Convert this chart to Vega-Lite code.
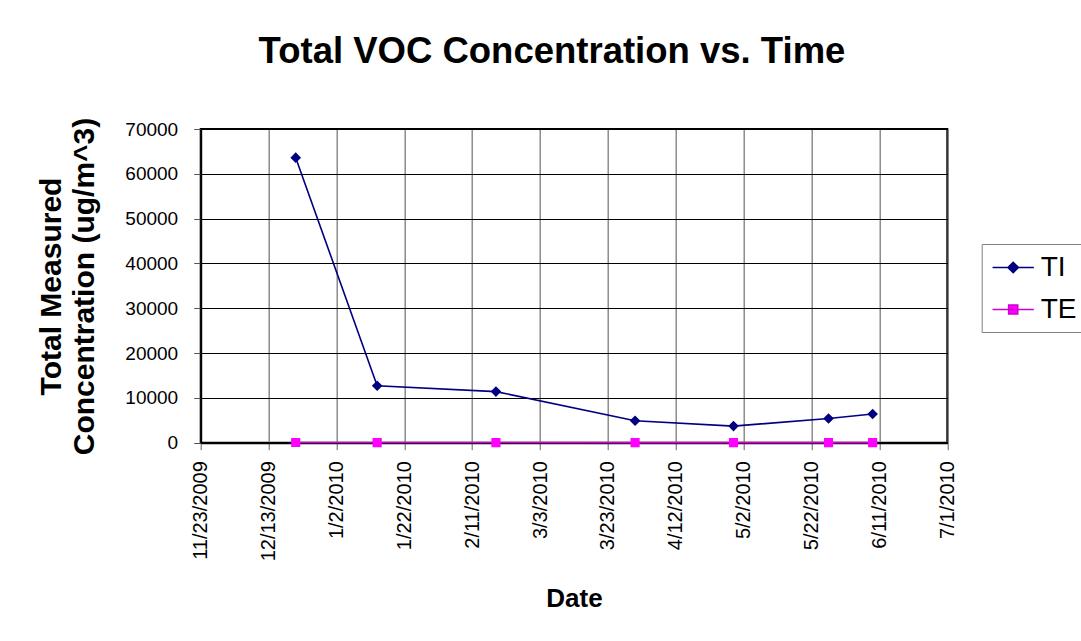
{
  "$schema": "https://vega.github.io/schema/vega-lite/v6.json",
  "width": 746.6,
  "height": 313.7,
  "autosize": {"type": "none"},
  "padding": {"left": 200.7, "top": 129, "right": 133.7, "bottom": 198.3},
  "background": "white",
  "title": {
    "text": "Total VOC Concentration vs. Time",
    "font": "Liberation Sans",
    "fontSize": 36.5,
    "fontWeight": "bold",
    "color": "black",
    "anchor": "middle",
    "frame": "group",
    "dx": -22,
    "baseline": "alphabetic",
    "offset": 18
  },
  "config": {
    "view": {"stroke": "black", "strokeWidth": 2},
    "axis": {
      "labelFont": "Liberation Sans",
      "labelColor": "black",
      "titleFont": "Liberation Sans",
      "titleFontWeight": "bold",
      "titleColor": "black"
    },
    "legend": {
      "orient": "none",
      "legendX": 781,
      "legendY": 115,
      "padding": 8,
      "symbolOffset": 8,
      "symbolSize": 870,
      "symbolStrokeWidth": 1.5,
      "rowPadding": 12,
      "labelOffset": 12,
      "labelFont": "Liberation Sans",
      "labelFontSize": 28,
      "labelColor": "black",
      "strokeColor": "#808080",
      "fillColor": "white"
    }
  },
  "data": {
    "values": [
      {"date": "2009-12-21", "series": "TI", "value": 63600},
      {"date": "2010-01-14", "series": "TI", "value": 12700},
      {"date": "2010-02-18", "series": "TI", "value": 11400},
      {"date": "2010-03-31", "series": "TI", "value": 4900},
      {"date": "2010-04-29", "series": "TI", "value": 3700},
      {"date": "2010-05-27", "series": "TI", "value": 5400},
      {"date": "2010-06-09", "series": "TI", "value": 6400},
      {"date": "2009-12-21", "series": "TE", "value": 40},
      {"date": "2010-01-14", "series": "TE", "value": 30},
      {"date": "2010-02-18", "series": "TE", "value": 30},
      {"date": "2010-03-31", "series": "TE", "value": 20},
      {"date": "2010-04-29", "series": "TE", "value": 20},
      {"date": "2010-05-27", "series": "TE", "value": 20},
      {"date": "2010-06-09", "series": "TE", "value": 20}
    ]
  },
  "encoding": {
    "x": {
      "field": "date",
      "type": "temporal",
      "scale": {
        "type": "utc",
        "domain": [
          {"year": 2009, "month": 11, "date": 23, "utc": true},
          {"year": 2010, "month": 7, "date": 1, "utc": true}
        ]
      },
      "axis": {
        "values": [
          {"year": 2009, "month": 11, "date": 23, "utc": true},
          {"year": 2009, "month": 12, "date": 13, "utc": true},
          {"year": 2010, "month": 1, "date": 2, "utc": true},
          {"year": 2010, "month": 1, "date": 22, "utc": true},
          {"year": 2010, "month": 2, "date": 11, "utc": true},
          {"year": 2010, "month": 3, "date": 3, "utc": true},
          {"year": 2010, "month": 3, "date": 23, "utc": true},
          {"year": 2010, "month": 4, "date": 12, "utc": true},
          {"year": 2010, "month": 5, "date": 2, "utc": true},
          {"year": 2010, "month": 5, "date": 22, "utc": true},
          {"year": 2010, "month": 6, "date": 11, "utc": true},
          {"year": 2010, "month": 7, "date": 1, "utc": true}
        ],
        "labelExpr": "utcFormat(datum.value, '%-m/%-d/%Y')",
        "labelAngle": 270,
        "labelFontSize": 20,
        "labelPadding": 11,
        "labelOverlap": false,
        "labelFlush": false,
        "tickSize": 7,
        "tickColor": "#666666",
        "grid": true,
        "gridColor": "#7a7a7a",
        "gridWidth": 1.3,
        "domainColor": "black",
        "domainWidth": 2,
        "title": "Date",
        "titleFontSize": 26,
        "titleY": 164,
        "titleBaseline": "alphabetic"
      }
    },
    "y": {
      "field": "value",
      "type": "quantitative",
      "scale": {"domain": [0, 70000], "nice": false},
      "axis": {
        "values": [0, 10000, 20000, 30000, 40000, 50000, 60000, 70000],
        "format": "d",
        "labelFontSize": 19,
        "labelPadding": 16,
        "tickSize": 7,
        "tickColor": "#555555",
        "grid": true,
        "gridColor": "black",
        "gridWidth": 1,
        "domainColor": "black",
        "domainWidth": 2,
        "title": ["Total Measured", "Concentration (ug/m^3)"],
        "titleFontSize": 30,
        "titleLineHeight": 33,
        "titleAngle": 270,
        "titleAlign": "center",
        "titleBaseline": "alphabetic",
        "titleX": -140,
        "titleY": 157
      }
    }
  },
  "layer": [
    {
      "mark": {"type": "line", "strokeWidth": 1.6},
      "encoding": {
        "stroke": {
          "field": "series",
          "type": "nominal",
          "scale": {"domain": ["TI", "TE"], "range": ["#000080", "#D000D0"]},
          "legend": {"title": null}
        }
      }
    },
    {
      "mark": {"type": "point", "filled": true, "opacity": 1, "size": 870},
      "encoding": {
        "color": {
          "field": "series",
          "type": "nominal",
          "scale": {"domain": ["TI", "TE"], "range": ["#000080", "#FF00FF"]},
          "legend": {"title": null}
        },
        "shape": {
          "field": "series",
          "type": "nominal",
          "scale": {
            "domain": ["TI", "TE"],
            "range": [
              "M-1.4,0H1.4M0,-0.36L0.36,0L0,0.36L-0.36,0Z",
              "M-1.4,0H1.4M-0.31,-0.31H0.31V0.31H-0.31Z"
            ]
          },
          "legend": {"title": null}
        }
      }
    }
  ]
}
